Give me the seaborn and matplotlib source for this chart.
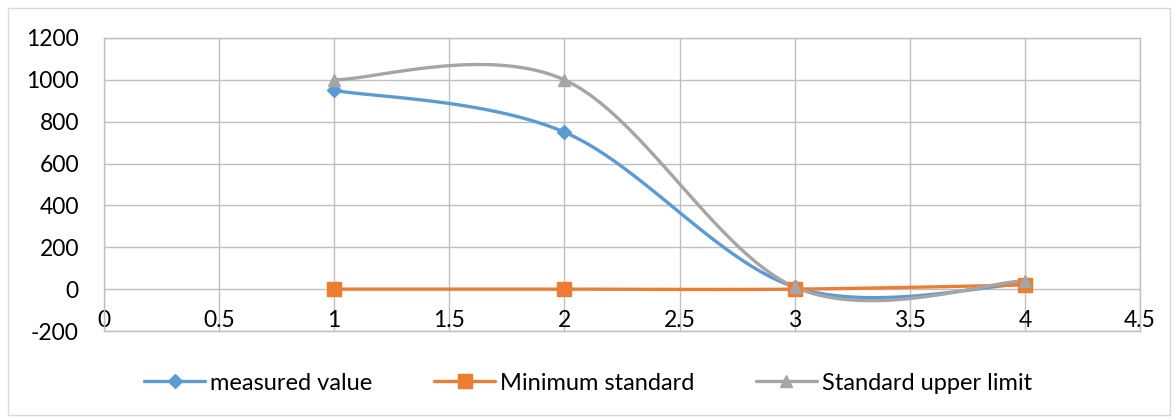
import numpy as np
import pandas as pd
import matplotlib
matplotlib.use("Agg")
import matplotlib.pyplot as plt
from matplotlib.lines import Line2D
from matplotlib.patches import Rectangle
import seaborn as sns

sns.set_theme(style="white")
plt.rcParams["font.family"] = ["Lato", "DejaVu Sans"]
plt.rcParams["axes.unicode_minus"] = False

x_vals = [1, 2, 3, 4]
measured = [950, 750, 10, 25]
minimum = [0, 0, 0, 20]
upper = [1000, 1000, 10, 40]

names = ["measured value", "Minimum standard", "Standard upper limit"]
colors = ["#5B9BD5", "#ED7D31", "#A5A5A5"]
markers = ["D", "s", "^"]
msizes = [7, 10, 9]


def smooth(xs, ys, n=40):
    # Excel-style smoothed line (cardinal bezier through the points)
    p = np.column_stack([xs, ys]).astype(float)
    ext = np.vstack([p[0], p, p[-1]])
    out = []
    for i in range(len(p) - 1):
        p0, p1, p2, p3 = ext[i], ext[i + 1], ext[i + 2], ext[i + 3]
        c1 = p1 + (p2 - p0) / 6
        c2 = p2 - (p3 - p1) / 6
        t = np.linspace(0, 1, n)[:, None]
        seg = (1 - t) ** 3 * p1 + 3 * (1 - t) ** 2 * t * c1 + 3 * (1 - t) * t ** 2 * c2 + t ** 3 * p2
        out.append(seg if i == 0 else seg[1:])
    return np.vstack(out)


fig = plt.figure(figsize=(11.76, 4.2), dpi=100)
fig.patches.append(Rectangle((8 / 1176, 5 / 420), 1162 / 1176, 407 / 420,
                             transform=fig.transFigure, fill=False,
                             edgecolor="#d9d9d9", linewidth=1))
ax = fig.add_axes([104 / 1176, 1 - 331 / 420, 1036 / 1176, 293 / 420])

handles = []
for name, ys, c, m, ms in zip(names, [measured, minimum, upper], colors, markers, msizes):
    curve = smooth(x_vals, ys)
    df = pd.DataFrame({"x": curve[:, 0], "y": curve[:, 1]})
    sns.lineplot(data=df, x="x", y="y", sort=False, estimator=None,
                 color=c, linewidth=2.4, ax=ax)
    ax.plot(x_vals, ys, linestyle="none", marker=m, markersize=ms,
            color=c, markeredgecolor=c, zorder=5)
    handles.append(Line2D([0], [0], color=c, linewidth=2.4, marker=m,
                          markersize=ms, label=name))

ax.set_xlim(0, 4.5)
ax.set_ylim(-200, 1200)
ax.set_xticks(np.arange(0, 4.51, 0.5))
ax.set_xticklabels(["0", "0.5", "1", "1.5", "2", "2.5", "3", "3.5", "4", "4.5"])
ax.set_yticks(np.arange(-200, 1201, 200))
ax.grid(True, color="#bfbfbf", linewidth=1)
for s in ax.spines.values():
    s.set_color("#bfbfbf")
    s.set_linewidth(1)
ax.tick_params(axis="x", length=0, pad=-15, labelsize=16.5, labelcolor="black")
ax.tick_params(axis="y", length=0, pad=18, labelsize=16.5, labelcolor="black")
ax.set_xlabel("")
ax.set_ylabel("")

fig.legend(handles=handles, loc="center", bbox_to_anchor=(0.5, 1 - 383 / 420),
           ncol=3, frameon=False, fontsize=17, handlelength=2.6,
           columnspacing=2.6, handletextpad=0.2, labelcolor="black")

fig.savefig("out.png", dpi=100)
